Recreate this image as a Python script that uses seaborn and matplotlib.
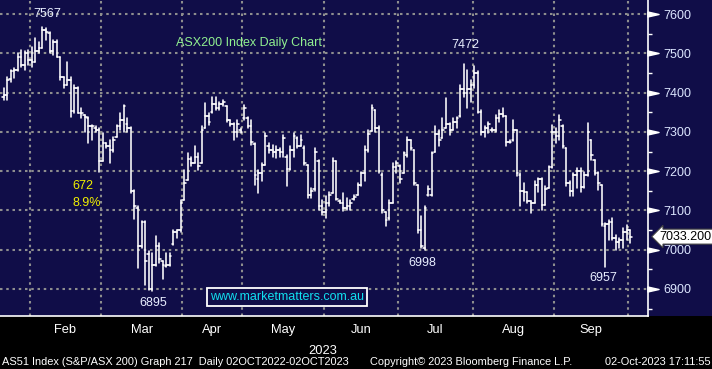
import numpy as np
import pandas as pd
import matplotlib
matplotlib.use("Agg")
import matplotlib.pyplot as plt
import matplotlib.font_manager as fm
import matplotlib.transforms as mtransforms
from matplotlib.patches import Rectangle
from matplotlib.path import Path
import seaborn as sns

# ---------------- data (ASX200 daily OHLC, 19 Jan 2023 - 02 Oct 2023) ----------------
opens = [7390, 7394, 7434, 7454, 7458, 7492, 7471, 7500, 7483, 7479,
         7505, 7513, 7560, 7551, 7505, 7530, 7492, 7440, 7420, 7432,
         7352, 7411, 7348, 7343, 7335, 7314, 7310, 7305, 7225, 7271,
         7263, 7254, 7288, 7314, 7331, 7320, 7310, 7150, 7105, 7010,
         7070, 6990, 6900, 6960, 7010, 6970, 6958, 6960, 7015, 7045,
         7050, 7127, 7178, 7230, 7222, 7235, 7220, 7310, 7340, 7350,
         7370, 7360, 7370, 7365, 7330, 7320, 7300, 7305, 7335, 7335,
         7315, 7270, 7180, 7195, 7216, 7265, 7255, 7250, 7255, 7250,
         7235, 7205, 7255, 7285, 7265, 7260, 7216, 7140, 7155, 7225,
         7110, 7095, 7120, 7145, 7225, 7125, 7120, 7105, 7110, 7130,
         7140, 7165, 7195, 7255, 7302, 7355, 7310, 7190, 7095, 7080,
         7120, 7210, 7212, 7195, 7240, 7280, 7254, 7165, 7050, 7005,
         7140, 7140, 7250, 7295, 7285, 7310, 7320, 7305, 7325, 7340,
         7410, 7400, 7410, 7420, 7450, 7350, 7300, 7310, 7305, 7305,
         7335, 7345, 7340, 7275, 7280, 7305, 7190, 7150, 7148, 7125,
         7120, 7165, 7180, 7115, 7157, 7210, 7300, 7290, 7315, 7259,
         7170, 7150, 7190, 7200, 7160, 7190, 7280, 7229, 7195, 7165,
         7060, 7065, 7070, 7030, 7020, 7025, 7045, 7050]
highs = [7411, 7441, 7458, 7462, 7500, 7509, 7505, 7509, 7517, 7538,
         7530, 7567, 7565, 7555, 7534, 7534, 7492, 7440, 7479, 7441,
         7420, 7415, 7360, 7343, 7339, 7318, 7314, 7310, 7297, 7271,
         7280, 7288, 7318, 7348, 7369, 7335, 7312, 7152, 7110, 7072,
         7072, 6996, 6992, 7034, 7016, 6970, 6991, 6991, 7051, 7051,
         7127, 7203, 7246, 7237, 7263, 7246, 7314, 7373, 7348, 7390,
         7390, 7377, 7382, 7365, 7331, 7322, 7331, 7310, 7369, 7339,
         7331, 7271, 7204, 7220, 7297, 7271, 7267, 7263, 7259, 7293,
         7240, 7263, 7297, 7288, 7293, 7263, 7216, 7157, 7259, 7229,
         7127, 7136, 7148, 7233, 7225, 7127, 7144, 7131, 7127, 7140,
         7170, 7199, 7263, 7305, 7369, 7356, 7314, 7195, 7097, 7127,
         7220, 7225, 7215, 7250, 7288, 7280, 7254, 7165, 7085, 7110,
         7161, 7250, 7314, 7305, 7335, 7386, 7322, 7335, 7339, 7420,
         7472, 7458, 7432, 7468, 7454, 7356, 7314, 7326, 7310, 7343,
         7356, 7360, 7340, 7280, 7331, 7305, 7195, 7170, 7148, 7125,
         7174, 7182, 7182, 7161, 7212, 7318, 7310, 7343, 7318, 7259,
         7174, 7195, 7208, 7208, 7199, 7322, 7280, 7229, 7199, 7165,
         7068, 7076, 7081, 7038, 7030, 7055, 7063, 7051]
lows = [7382, 7382, 7428, 7437, 7454, 7466, 7458, 7471, 7466, 7479,
        7500, 7513, 7534, 7500, 7496, 7492, 7432, 7411, 7420, 7339,
        7348, 7348, 7335, 7301, 7271, 7280, 7301, 7199, 7225, 7259,
        7221, 7250, 7288, 7305, 7301, 7301, 7145, 7078, 6953, 7005,
        6911, 6898, 6895, 6958, 6966, 6924, 6955, 6958, 7013, 7030,
        7045, 7127, 7178, 7212, 7220, 7203, 7220, 7310, 7318, 7348,
        7356, 7356, 7365, 7326, 7314, 7280, 7288, 7297, 7331, 7310,
        7267, 7165, 7144, 7174, 7216, 7246, 7237, 7233, 7237, 7237,
        7161, 7204, 7237, 7259, 7263, 7216, 7131, 7131, 7150, 7102,
        7089, 7081, 7110, 7144, 7127, 7119, 7098, 7102, 7102, 7127,
        7140, 7161, 7174, 7250, 7302, 7301, 7195, 7093, 7059, 7076,
        7119, 7195, 7170, 7195, 7237, 7254, 7165, 7042, 7004, 6998,
        7136, 7136, 7250, 7263, 7284, 7310, 7293, 7305, 7310, 7339,
        7390, 7360, 7377, 7411, 7348, 7293, 7288, 7297, 7301, 7301,
        7326, 7339, 7263, 7271, 7276, 7187, 7110, 7123, 7119, 7093,
        7119, 7148, 7102, 7115, 7157, 7208, 7271, 7280, 7259, 7161,
        7136, 7136, 7157, 7148, 7157, 7187, 7229, 7191, 7153, 7059,
        6957, 7025, 7025, 7000, 7004, 7004, 7025, 7017]
closes = [7394, 7432, 7454, 7458, 7492, 7471, 7500, 7483, 7479, 7505,
          7513, 7560, 7555, 7505, 7530, 7492, 7440, 7420, 7432, 7352,
          7411, 7348, 7348, 7339, 7314, 7314, 7305, 7225, 7271, 7263,
          7254, 7280, 7314, 7331, 7365, 7310, 7150, 7110, 7010, 7070,
          6970, 6900, 6960, 7010, 6975, 6960, 6960, 6985, 7045, 7050,
          7120, 7170, 7230, 7220, 7235, 7212, 7305, 7340, 7325, 7370,
          7360, 7370, 7375, 7330, 7320, 7300, 7320, 7300, 7360, 7315,
          7275, 7190, 7195, 7215, 7290, 7255, 7250, 7255, 7250, 7285,
          7205, 7255, 7290, 7265, 7280, 7220, 7140, 7150, 7250, 7110,
          7095, 7120, 7140, 7225, 7130, 7120, 7105, 7110, 7120, 7135,
          7165, 7195, 7255, 7295, 7360, 7310, 7200, 7100, 7075, 7120,
          7210, 7220, 7180, 7245, 7280, 7260, 7170, 7050, 7010, 7105,
          7155, 7245, 7295, 7280, 7305, 7320, 7305, 7325, 7335, 7410,
          7400, 7410, 7420, 7450, 7350, 7300, 7310, 7320, 7305, 7335,
          7345, 7340, 7275, 7275, 7305, 7195, 7150, 7148, 7125, 7120,
          7165, 7180, 7115, 7155, 7210, 7300, 7290, 7330, 7265, 7170,
          7150, 7190, 7200, 7160, 7190, 7300, 7240, 7195, 7170, 7065,
          7065, 7070, 7030, 7020, 7025, 7045, 7050, 7033.2]

month_labels = ["Feb", "Mar", "Apr", "May", "Jun", "Jul", "Aug", "Sep"]
month_first_bar = [8, 28, 51, 68, 91, 112, 133, 156, 177]   # first trading bar of Feb..Oct
price_ticks = [6900, 7000, 7100, 7200, 7300, 7400, 7500, 7600]
minor_price_ticks = [6850, 6950, 7050, 7150, 7250, 7350, 7450, 7550]
year_label = "2023"
chart_title = "ASX200 Index Daily Chart"
site = "www.marketmatters.com.au"
extreme_labels = [("7472", 130.4, 7521), ("6998", 118.2, 6966), ("6957", 169.3, 6928)]
footer_left = "AS51 Index (S&P/ASX 200) Graph 217  Daily 02OCT2022-02OCT2023"
footer_mid = "Copyright\u00a9 2023 Bloomberg Finance L.P."
footer_right = "02-Oct-2023 17:11:55"

# ---------------- style ----------------
sns.set_style("dark")
names = {f.name for f in fm.fontManager.ttflist}
main_font = ["Liberation Sans", "DejaVu Sans"]
has_narrow = "Liberation Sans Narrow" in names
narrow_font = ["Liberation Sans Narrow", "Liberation Sans", "DejaVu Sans"] if has_narrow \
    else ["Liberation Sans", "DejaVu Sans"]
narrow_scale = 1.0 if has_narrow else 0.88
plt.rcParams["font.family"] = main_font

navy = "#100d48"
W, H = 712, 369
fig = plt.figure(figsize=(W / 100, H / 100), dpi=100, facecolor="black")
fig.patches.append(Rectangle((0, 53 / H), 1, 316 / H, transform=fig.transFigure,
                             facecolor=navy, edgecolor="none", zorder=-5))
ax = fig.add_axes([0, 53 / H, 648 / W, 316 / H])
ax.set_zorder(1)
ax.set_facecolor(navy)

# ---------------- OHLC bars via seaborn ----------------
n = len(closes)
w = 0.45
xs, ys, segs = [], [], []
for i in range(n):
    xs += [i, i, i - w, i, i, i + w]
    ys += [lows[i], highs[i], opens[i], opens[i], closes[i], closes[i]]
    segs += [3 * i, 3 * i, 3 * i + 1, 3 * i + 1, 3 * i + 2, 3 * i + 2]
df = pd.DataFrame({"x": xs, "price": ys, "seg": segs})
sns.lineplot(data=df, x="x", y="price", units="seg", estimator=None, sort=False,
             color="white", linewidth=1.15, ax=ax, legend=False, zorder=3)

# ---------------- axes ----------------
ax.set_xlim(-0.99, 182.06)
ax.set_ylim(6831, 7636)
ax.set_xlabel("")
ax.set_ylabel("")

bounds = [b - 0.5 for b in month_first_bar]
centers = [(bounds[k] + bounds[k + 1]) / 2 for k in range(len(month_labels))]
ax.set_xticks(bounds)
ax.set_xticklabels([])
ax.set_xticks(centers, minor=True)
ax.set_xticklabels(month_labels, minor=True)
ax.tick_params(axis="x", which="major", length=3, width=1, color="white", direction="out")
ax.tick_params(axis="x", which="minor", length=0, pad=6, labelcolor="white",
               labelsize=10.5 * narrow_scale)
for lab in ax.get_xticklabels(minor=True):
    lab.set_family(narrow_font)

ax.yaxis.tick_right()
ax.set_yticks(price_ticks)
ax.set_yticks(minor_price_ticks, minor=True)
ax.tick_params(axis="y", which="major", length=0, pad=11, labelcolor="#dce6ff", labelsize=9)
ax.tick_params(axis="y", which="minor", length=3, width=1, color="white", direction="out")

ax.grid(True, which="major", color="#8e8e8e", linestyle=(0, (1.2, 1.8)), linewidth=1.5)
ax.grid(False, which="minor")
for side in ["left", "top"]:
    ax.spines[side].set_visible(False)
for side in ["bottom", "right"]:
    ax.spines[side].set_visible(True)
    ax.spines[side].set_color("white")
    ax.spines[side].set_linewidth(1.2)

# tick arrows on the price axis
blend = mtransforms.blended_transform_factory(ax.transAxes, ax.transData)
arrow = Path([(-1, -0.45), (1, 0), (-1, 0.45), (-1, -0.45)],
             [Path.MOVETO, Path.LINETO, Path.LINETO, Path.CLOSEPOLY])
ax.plot([1.0075] * len(price_ticks), price_ticks, linestyle="none", marker=arrow,
        markersize=8, color="white", transform=blend, clip_on=False, zorder=5)

# last price box
ax.text(1.018, closes[-1], f"{closes[-1]:.3f}", transform=blend, ha="left", va="center",
        fontsize=9, color="black", clip_on=False, zorder=6,
        bbox=dict(boxstyle="larrow,pad=0.12", facecolor="white", edgecolor="#404040", linewidth=0.8))

# ---------------- annotations ----------------
num_color = "#e8eeff"
hi = max(highs)
lo = min(lows)
ax.text(12.3, 7600, f"{hi:.0f}", ha="center", va="center", fontsize=9, color=num_color)
ax.text(42.2, 6864, f"{lo:.0f}", ha="center", va="center", fontsize=9, color=num_color)
ax.text(19.35, 7162, f"{hi - lo:.0f}", ha="left", va="center", fontsize=9, color="#f0f000")
ax.text(19.35, 7119, f"{(hi - lo) / hi * 100:.1f}%", ha="left", va="center", fontsize=9, color="#f0f000")
for txt, xi, yv in extreme_labels:
    ax.text(xi, yv, txt, ha="center", va="center", fontsize=9, color=num_color)

ax.text(249 / 648, 1 - 43 / 316, chart_title, transform=ax.transAxes, ha="center", va="center",
        fontsize=9, color="#90f090")
ax.text(287 / 648, 1 - 297 / 316, site, transform=ax.transAxes, ha="center", va="center",
        fontsize=9, color="#10e0f0", zorder=6,
        bbox=dict(boxstyle="square,pad=0.22", facecolor=navy, edgecolor="white", linewidth=1.3))

# ---------------- bottom texts ----------------
fig.text(323 / W, 1 - 351 / H, year_label, ha="center", va="center", color="white",
         fontsize=10.5 * narrow_scale, family=narrow_font)
fs = 9 * narrow_scale
fig.text(2 / W, 1 - 362 / H, footer_left, ha="left", va="center", color="white", fontsize=fs, family=narrow_font)
fig.text(370 / W, 1 - 362 / H, footer_mid, ha="left", va="center", color="white", fontsize=fs, family=narrow_font)
fig.text(711 / W, 1 - 362 / H, footer_right, ha="right", va="center", color="white", fontsize=fs, family=narrow_font)

fig.savefig("out.png", dpi=100, facecolor="black")
